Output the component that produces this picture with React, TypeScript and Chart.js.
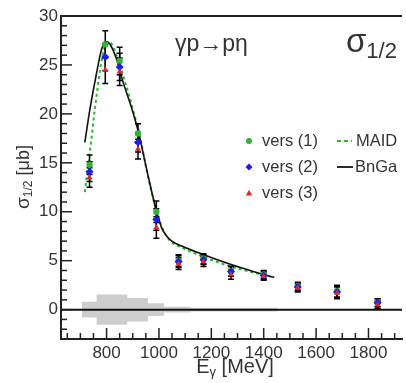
import React, { useEffect, useRef } from 'react';
import { Chart, registerables } from 'chart.js';
Chart.register(...registerables);

// photon energy of the data points [MeV]
const energies = [735, 795, 850, 920, 990, 1075, 1170, 1275, 1400, 1530, 1680, 1835];
// sigma_1/2 [mub] for the three analysis versions
const vers1 = [14.8, 27.1, 25.4, 18.0, 10.0, 5.0, 5.2, 3.9, 3.6, 2.4, 1.9, 0.7];
const vers2 = [14.1, 25.8, 24.8, 17.1, 9.2, 4.9, 5.1, 3.9, 3.5, 2.3, 1.8, 0.7];
const vers3 = [13.5, 24.5, 24.3, 16.4, 8.4, 4.7, 4.9, 3.6, 3.4, 2.2, 1.7, 0.5];
const errors = [1.0, 1.4, 1.4, 1.0, 1.1, 0.6, 0.5, 0.5, 0.4, 0.4, 0.6, 0.4];

// BnGa model curve
const bngaE = [717, 736, 762, 781, 795, 811, 838, 860, 898, 921, 955, 989, 1000, 1011, 1030, 1049, 1087, 1151, 1275, 1360, 1440];
const bngaS = [17.1, 20.4, 24.2, 26.6, 27.4, 27.2, 25.6, 23.5, 20.4, 18.2, 14.1, 10.2, 9.2, 8.3, 7.5, 7.0, 6.5, 5.8, 4.6, 3.9, 3.3];
// MAID model curve
const maidE = [717, 735, 755, 770, 785, 800, 812, 842, 868, 900, 925, 955, 985, 1000, 1015, 1040, 1090, 1150, 1275, 1360, 1440];
const maidS = [12.0, 15.8, 20.4, 23.5, 26.0, 27.3, 27.3, 25.7, 23.5, 20.5, 18.0, 14.0, 10.6, 9.3, 8.2, 7.1, 6.3, 5.6, 4.4, 3.8, 3.3];

// systematic uncertainty band (bin edges and half-heights)
const sysEdges = [706, 762, 879, 958, 1019, 1121, 1453];
const sysHalf = [0.8, 1.54, 1.2, 0.65, 0.3, 0.2, 0.2];

const xMajor = [800, 1000, 1200, 1400, 1600, 1800];
const yMajor = [0, 5, 10, 15, 20, 25, 30];

const FONT = "'Liberation Sans', Arial, sans-serif";
const GREEN = '#2fb52f';
const BLUE = '#1c1cf0';
const RED = '#e02828';
const TEXT = '#333333';

function drawMarker(ctx: CanvasRenderingContext2D, kind: string, x: number, y: number, r: number, color: string) {
  ctx.save();
  ctx.fillStyle = color;
  ctx.beginPath();
  if (kind === 'circle') {
    ctx.arc(x, y, r, 0, Math.PI * 2);
  } else if (kind === 'diamond') {
    ctx.moveTo(x, y - r); ctx.lineTo(x + r, y); ctx.lineTo(x, y + r); ctx.lineTo(x - r, y); ctx.closePath();
  } else {
    ctx.moveTo(x, y - r); ctx.lineTo(x + r, y + r * 0.8); ctx.lineTo(x - r, y + r * 0.8); ctx.closePath();
  }
  ctx.fill();
  ctx.restore();
}

function textWithSub(ctx: CanvasRenderingContext2D, parts: { t: string; size: number; dy: number }[], x: number, y: number, draw: boolean) {
  let cx = x;
  for (const p of parts) {
    ctx.font = `${p.size}px ${FONT}`;
    if (draw) ctx.fillText(p.t, cx, y + p.dy);
    cx += ctx.measureText(p.t).width;
  }
  return cx - x;
}

const decor = {
  id: 'decor',
  afterDatasetDraw(chart: any, args: any) {
    if (args.index !== 5) return;
    const { ctx, chartArea } = chart;
    const ys = chart.scales.y;
    ctx.save();
    const y0 = ys.getPixelForValue(0);
    ctx.strokeStyle = '#111';
    ctx.lineWidth = 2;
    ctx.beginPath();
    ctx.moveTo(chartArea.left, y0);
    ctx.lineTo(chartArea.right, y0);
    ctx.stroke();
    ctx.restore();
  },
  beforeDatasetDraw(chart: any, args: any) {
    if (args.index !== 2) return;
    const { ctx } = chart;
    const xs = chart.scales.x;
    const ys = chart.scales.y;
    ctx.save();
    ctx.strokeStyle = '#000';
    ctx.lineWidth = 1.5;
    [vers1, vers2, vers3].forEach((arr) => {
      arr.forEach((v, i) => {
        const px = xs.getPixelForValue(energies[i]);
        const top = ys.getPixelForValue(v + errors[i]);
        const bot = ys.getPixelForValue(v - errors[i]);
        ctx.beginPath();
        ctx.moveTo(px, top); ctx.lineTo(px, bot);
        ctx.moveTo(px - 3, top); ctx.lineTo(px + 3, top);
        ctx.moveTo(px - 3, bot); ctx.lineTo(px + 3, bot);
        ctx.stroke();
      });
    });
    ctx.restore();
  },
  afterDraw(chart: any) {
    const { ctx, chartArea } = chart;
    const xs = chart.scales.x;
    const ys = chart.scales.y;
    ctx.save();
    ctx.strokeStyle = '#222';
    ctx.lineWidth = 1.5;
    for (let v = Math.ceil(ys.min); v <= ys.max; v += 1) {
      const py = ys.getPixelForValue(v);
      const len = v % 5 === 0 ? 11 : 6;
      ctx.beginPath();
      ctx.moveTo(chartArea.left, py);
      ctx.lineTo(chartArea.left + len, py);
      ctx.stroke();
    }
    for (let v = Math.ceil(xs.min / 50) * 50; v <= xs.max; v += 50) {
      const px = xs.getPixelForValue(v);
      const len = v % 200 === 0 ? 11 : 6;
      ctx.beginPath();
      ctx.moveTo(px, chartArea.bottom);
      ctx.lineTo(px, chartArea.bottom - len);
      ctx.stroke();
    }
    ctx.lineWidth = 2;
    ctx.beginPath();
    ctx.moveTo(chartArea.left, chartArea.top);
    ctx.lineTo(chartArea.right, chartArea.top);
    ctx.stroke();

    ctx.fillStyle = TEXT;
    ctx.textBaseline = 'alphabetic';
    ctx.font = `23px ${FONT}`;
    ctx.fillText('γp→pη', 175, 51);
    textWithSub(ctx, [{ t: 'σ', size: 33, dy: 0 }, { t: '1/2', size: 22, dy: 6 }], 346, 52, true);

    // legend
    ctx.textBaseline = 'middle';
    ctx.font = `16.5px ${FONT}`;
    const rows = [141, 167, 193];
    drawMarker(ctx, 'circle', 249, rows[0], 3, GREEN);
    drawMarker(ctx, 'diamond', 249, rows[1], 3.5, BLUE);
    drawMarker(ctx, 'triangle', 249, rows[2], 3.2, RED);
    ctx.fillStyle = TEXT;
    ctx.fillText('vers (1)', 262, rows[0]);
    ctx.fillText('vers (2)', 262, rows[1]);
    ctx.fillText('vers (3)', 262, rows[2]);
    ctx.strokeStyle = GREEN;
    ctx.lineWidth = 2;
    ctx.setLineDash([4, 3]);
    ctx.beginPath(); ctx.moveTo(337, rows[0]); ctx.lineTo(352, rows[0]); ctx.stroke();
    ctx.setLineDash([]);
    ctx.strokeStyle = '#111';
    ctx.lineWidth = 1.8;
    ctx.beginPath(); ctx.moveTo(337, rows[1]); ctx.lineTo(353, rows[1]); ctx.stroke();
    ctx.fillText('MAID', 356, rows[0]);
    ctx.fillText('BnGa', 355, rows[1]);

    // x axis title
    const xParts = [{ t: 'E', size: 20, dy: 0 }, { t: 'γ', size: 13, dy: 5 }, { t: ' [MeV]', size: 20, dy: 0 }];
    const wx = textWithSub(ctx, xParts, 0, 0, false);
    textWithSub(ctx, xParts, 235 - wx / 2, 367, true);

    // y axis title (rotated)
    const yParts = [{ t: 'σ', size: 19, dy: 0 }, { t: '1/2', size: 12, dy: 5 }, { t: ' [μb]', size: 18, dy: 0 }];
    const wy = textWithSub(ctx, yParts, 0, 0, false);
    ctx.translate(24, 177);
    ctx.rotate(-Math.PI / 2);
    textWithSub(ctx, yParts, -wy / 2, 0, true);
    ctx.restore();
  },
};

export default function App() {
  const ref = useRef<HTMLCanvasElement | null>(null);
  useEffect(() => {
    document.body.style.margin = '0';
    Chart.defaults.font.family = FONT;
    const pts = (arr: number[]) => arr.map((v, i) => ({ x: energies[i], y: v }));
    const upper = sysEdges.map((e, i) => ({ x: e, y: sysHalf[i] }));
    const lower = sysEdges.map((e, i) => ({ x: e, y: -sysHalf[i] }));
    const chart = new Chart(ref.current as HTMLCanvasElement, {
      type: 'scatter',
      data: {
        datasets: [
          { label: 'vers (3)', data: pts(vers3), pointStyle: 'triangle', pointRadius: 3.5, backgroundColor: RED, borderColor: RED, borderWidth: 0, showLine: false },
          { label: 'vers (2)', data: pts(vers2), pointStyle: 'rectRot', pointRadius: 4, backgroundColor: BLUE, borderColor: BLUE, borderWidth: 0, showLine: false },
          { label: 'vers (1)', data: pts(vers1), pointStyle: 'circle', pointRadius: 3.2, backgroundColor: GREEN, borderColor: GREEN, borderWidth: 0, showLine: false },
          { label: 'BnGa', data: bngaE.map((e, i) => ({ x: e, y: bngaS[i] })), showLine: true, borderColor: '#111', borderWidth: 1.6, pointRadius: 0, cubicInterpolationMode: 'monotone', fill: false },
          { label: 'MAID', data: maidE.map((e, i) => ({ x: e, y: maidS[i] })), showLine: true, borderColor: GREEN, borderWidth: 2, borderDash: [3, 3], pointRadius: 0, cubicInterpolationMode: 'monotone', fill: false },
          { label: 'sys+', data: upper, showLine: true, stepped: 'before', borderWidth: 0, borderColor: 'rgba(0,0,0,0)', pointRadius: 0, fill: 'origin', backgroundColor: '#cdcdcd' },
          { label: 'sys-', data: lower, showLine: true, stepped: 'before', borderWidth: 0, borderColor: 'rgba(0,0,0,0)', pointRadius: 0, fill: 'origin', backgroundColor: '#cdcdcd' },
        ],
      },
      options: {
        animation: false,
        responsive: false,
        maintainAspectRatio: false,
        layout: { padding: { top: 16, right: 0, left: 0, bottom: 0 } },
        plugins: { legend: { display: false }, tooltip: { enabled: false } },
        scales: {
          x: {
            type: 'linear',
            min: 626,
            max: 1928,
            grid: { display: false, drawTicks: false },
            border: { display: true, color: '#222', width: 2 },
            ticks: {
              stepSize: 200,
              includeBounds: false,
              autoSkip: false,
              maxRotation: 0,
              padding: 4,
              color: TEXT,
              font: { size: 17, family: FONT },
              callback: (v: any) => (xMajor.includes(Number(v)) ? String(v) : ''),
            },
            afterFit: (s: any) => { s.height = 44; },
          },
          y: {
            type: 'linear',
            min: -3,
            max: 30,
            grid: { display: false, drawTicks: false },
            border: { display: true, color: '#222', width: 2 },
            ticks: {
              stepSize: 5,
              includeBounds: false,
              padding: 3,
              color: TEXT,
              font: { size: 17, family: FONT },
              callback: (v: any) => (yMajor.includes(Number(v)) ? String(v) : ''),
            },
            afterFit: (s: any) => { s.width = 61; },
          },
        },
      },
      plugins: [decor],
    } as any);
    return () => chart.destroy();
  }, []);
  return (
    <div style={{ position: 'absolute', left: 0, top: 0, width: 406, height: 383 }}>
      <canvas ref={ref} width={406} height={383} style={{ width: 406, height: 383 }} />
    </div>
  );
}
